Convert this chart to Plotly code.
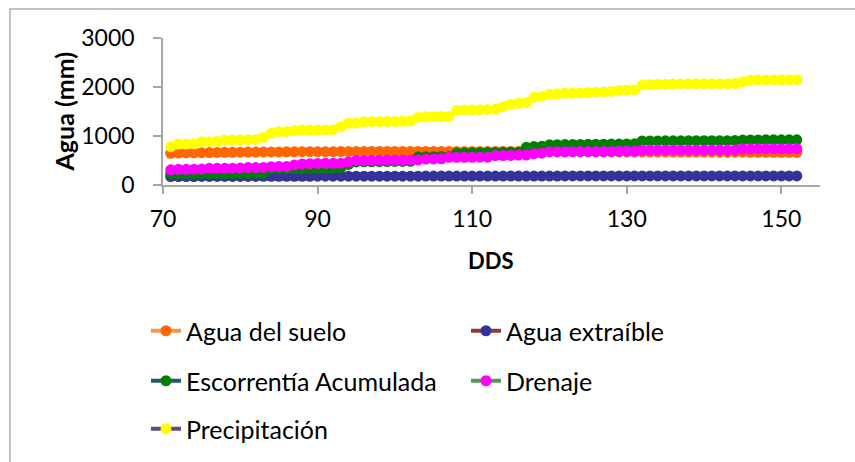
import plotly.graph_objects as go

# ---------------- data ----------------
dds = [71, 72, 73, 74, 75, 76, 77, 78, 79, 80,
       81, 82, 83, 84, 85, 86, 87, 88, 89, 90,
       91, 92, 93, 94, 95, 96, 97, 98, 99, 100,
       101, 102, 103, 104, 105, 106, 107, 108, 109, 110,
       111, 112, 113, 114, 115, 116, 117, 118, 119, 120,
       121, 122, 123, 124, 125, 126, 127, 128, 129, 130,
       131, 132, 133, 134, 135, 136, 137, 138, 139, 140,
       141, 142, 143, 144, 145, 146, 147, 148, 149, 150,
       151, 152]

agua_suelo = [648, 652, 655, 658, 660, 662, 664, 666, 668, 670,
              672, 673, 674, 675, 676, 677, 678, 679, 680, 680,
              681, 681, 682, 682, 683, 683, 684, 684, 684, 685,
              685, 685, 686, 686, 686, 686, 686, 686, 686, 686,
              685, 685, 685, 684, 684, 683, 683, 682, 682, 681,
              681, 680, 680, 679, 679, 678, 678, 677, 677, 676,
              676, 675, 675, 674, 674, 673, 673, 672, 672, 671,
              671, 670, 670, 669, 669, 668, 668, 667, 667, 666,
              666, 665]

agua_extraible = [172, 172, 173, 173, 174, 174, 175, 175, 175, 176,
                  176, 176, 177, 177, 177, 178, 178, 178, 178, 179,
                  179, 179, 179, 180, 180, 180, 180, 180, 181, 181,
                  181, 181, 181, 182, 182, 182, 182, 182, 182, 182,
                  183, 183, 183, 183, 183, 183, 183, 183, 183, 183,
                  183, 184, 184, 184, 184, 184, 184, 184, 184, 184,
                  184, 184, 184, 184, 184, 184, 184, 184, 184, 184,
                  184, 184, 184, 184, 184, 184, 184, 184, 184, 184,
                  184, 184]

escorrentia = [230, 230, 230, 232, 232, 234, 234, 236, 236, 238,
               238, 240, 240, 330, 332, 334, 336, 338, 340, 342,
               344, 346, 348, 420, 470, 472, 474, 476, 478, 480,
               482, 484, 575, 576, 578, 580, 582, 650, 655, 658,
               660, 662, 664, 666, 668, 670, 768, 785, 790, 820,
               822, 824, 826, 828, 830, 832, 834, 835, 836, 838,
               840, 898, 900, 900, 901, 902, 902, 903, 903, 904,
               904, 905, 905, 906, 918, 920, 920, 921, 921, 922,
               922, 922]

drenaje = [310, 320, 320, 322, 324, 340, 340, 342, 344, 346,
           355, 356, 358, 374, 376, 380, 410, 430, 436, 440,
           442, 442, 444, 470, 500, 502, 504, 506, 508, 510,
           510, 512, 512, 530, 532, 534, 565, 565, 566, 566,
           567, 568, 600, 602, 604, 610, 612, 640, 650, 680,
           680, 681, 681, 682, 682, 683, 683, 684, 690, 690,
           691, 714, 714, 714, 715, 715, 715, 716, 716, 716,
           717, 717, 717, 718, 740, 740, 741, 741, 742, 742,
           743, 743]

precipitacion = [782, 836, 836, 840, 884, 884, 890, 918, 918, 920,
                 925, 930, 973, 1054, 1088, 1088, 1110, 1120, 1122, 1122,
                 1125, 1130, 1190, 1258, 1265, 1290, 1292, 1292, 1295, 1295,
                 1300, 1305, 1380, 1394, 1394, 1400, 1400, 1520, 1530, 1530,
                 1535, 1540, 1550, 1598, 1650, 1666, 1680, 1790, 1802, 1850,
                 1860, 1870, 1875, 1880, 1890, 1895, 1900, 1910, 1930, 1938,
                 1940, 2040, 2050, 2055, 2058, 2060, 2062, 2063, 2064, 2065,
                 2066, 2067, 2068, 2070, 2107, 2140, 2142, 2144, 2145, 2146,
                 2148, 2150]

series_names = ["Agua del suelo", "Agua extraíble", "Escorrentía Acumulada",
                "Drenaje", "Precipitación"]
series_values = [agua_suelo, agua_extraible, escorrentia, drenaje, precipitacion]
marker_colors = ["#FF6600", "#333399", "#008000", "#FF00FF", "#FFFF00"]
line_colors = ["#F79646", "#953735", "#215968", "#4F9A4F", "#604A7B"]

x_ticks = [70, 90, 110, 130, 150]
y_ticks = [0, 1000, 2000, 3000]

# ---------------- figure ----------------
W, H = 855, 462
L, R, T, B = 163, 35, 38, 277
pw, ph = W - L - R, H - T - B

def px_x(x):
    return (x - L) / pw

def px_y(y):
    return (H - B - y) / ph

FONT = "Lato, Carlito, Calibri, sans-serif"
AX = "#A6A6A6"

fig = go.Figure()
legend_ids = ["legend", "legend2", "legend3", "legend4", "legend5"]
legend_pos = [(146, 331), (466, 331), (146, 381), (466, 381), (146, 429)]

for name, vals, mc, lc, lg in zip(series_names, series_values, marker_colors,
                                  line_colors, legend_ids):
    fig.add_trace(go.Scatter(
        x=dds, y=vals, name=name, mode="lines+markers",
        line=dict(color=lc, width=4),
        marker=dict(color=mc, size=11, line=dict(width=0)),
        legend=lg,
    ))

layout_legends = {}
for lg, (lx, ly) in zip(legend_ids, legend_pos):
    layout_legends[lg] = dict(
        x=px_x(lx), y=px_y(ly), xanchor="left", yanchor="middle",
        xref="paper", yref="paper",
        bgcolor="rgba(0,0,0,0)", borderwidth=0,
        font=dict(family=FONT, size=25, color="#000000"),
        itemclick=False, itemdoubleclick=False,
    )

fig.update_layout(
    width=W, height=H,
    margin=dict(l=L, r=R, t=T, b=B, autoexpand=False),
    paper_bgcolor="white", plot_bgcolor="white",
    showlegend=True,
    font=dict(family=FONT, size=23, color="#000000"),
    xaxis=dict(
        range=[70, 155], tickvals=x_ticks, ticktext=[str(v) for v in x_ticks],
        showgrid=False, zeroline=False, showline=True, linecolor=AX, linewidth=1.5,
        ticks="outside", ticklen=7, tickcolor=AX, tickwidth=1.5,
        tickfont=dict(family=FONT, size=23, color="#000000"),
        ticklabelstandoff=6, automargin=False,
    ),
    yaxis=dict(
        range=[0, 3000], tickvals=y_ticks, ticktext=[str(v) for v in y_ticks],
        showgrid=False, zeroline=False, showline=True, linecolor=AX, linewidth=1.5,
        ticks="outside", ticklen=8, tickcolor=AX, tickwidth=1.5,
        tickfont=dict(family=FONT, size=23, color="#000000"),
        ticklabelstandoff=14, automargin=False,
    ),
    annotations=[
        dict(text="<b>Agua (mm)</b>", textangle=-90, x=px_x(63), y=0.5,
             xref="paper", yref="paper", xanchor="center", yanchor="middle",
             showarrow=False, font=dict(family=FONT, size=25, color="#000000")),
        dict(text="<b>DDS</b>", x=px_x(491), y=px_y(260),
             xref="paper", yref="paper", xanchor="center", yanchor="middle",
             showarrow=False, font=dict(family=FONT, size=22, color="#000000")),
    ],
    shapes=[
        dict(type="rect", xref="paper", yref="paper",
             x0=px_x(10), x1=px_x(870), y0=px_y(480), y1=px_y(9),
             line=dict(color="#ADADAD", width=1.5), fillcolor="rgba(0,0,0,0)",
             layer="below"),
    ],
    **layout_legends,
)

fig.write_html("out.html")
